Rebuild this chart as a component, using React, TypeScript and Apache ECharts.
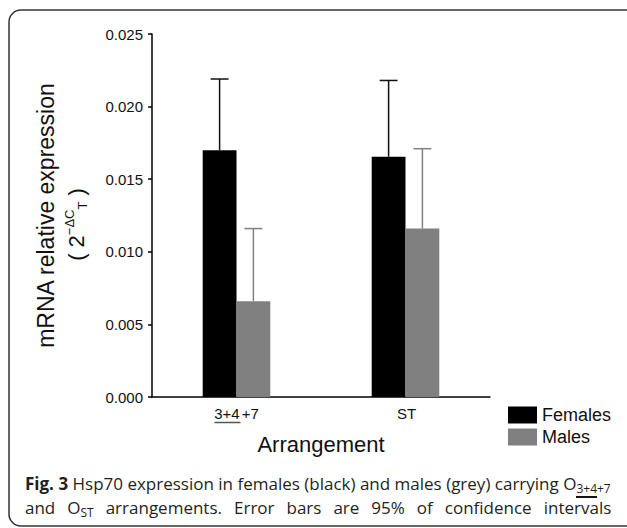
import React, { useEffect, useRef } from "react";
import * as echarts from "echarts";

const categories = ["3+4+7", "ST"];
const seriesNames = ["Females", "Males"];
const femalesMean = [0.017, 0.01655];
const femalesUpper = [0.0219, 0.0218];
const malesMean = [0.0066, 0.0116];
const malesUpper = [0.0116, 0.0171];
const yMin = 0;
const yMax = 0.025;
const yInterval = 0.005;

const seriesColors = ["#000000", "#808080"];
const errorColors = ["#111111", "#808080"];
const ARIAL = "'Liberation Sans', Arial, sans-serif";
const CAPTION = "'Open Sans', sans-serif";

export default function App() {
  const ref = useRef<HTMLDivElement>(null);

  useEffect(() => {
    document.body.style.margin = "0";
    const chart = echarts.init(ref.current!, null, { renderer: "svg" });

    const errorSeries = (name: string, means: number[], uppers: number[], color: string, side: number) => ({
      type: "custom",
      name: name + " 95% CI",
      data: means.map((m, i) => [i, m, uppers[i]]),
      encode: { x: 0, y: [1, 2] },
      z: 3,
      silent: true,
      renderItem: (params: any, api: any) => {
        const idx = api.value(0);
        const base = api.coord([idx, api.value(1)]);
        const top = api.coord([idx, api.value(2)]);
        const band = api.size([1, 0])[0];
        const x = base[0] + side * band * 0.1;
        const half = band * 0.053;
        return {
          type: "group",
          children: [
            { type: "line", shape: { x1: x, y1: base[1], x2: x, y2: top[1] }, style: { stroke: color, lineWidth: 1.5 } },
            { type: "line", shape: { x1: x - half, y1: top[1], x2: x + half, y2: top[1] }, style: { stroke: color, lineWidth: 1.5 } },
          ],
        };
      },
    });

    const option: any = {
      animation: false,
      backgroundColor: "#ffffff",
      grid: { left: 152, right: 137, top: 34, bottom: 131, containLabel: false },
      legend: {
        data: seriesNames,
        orient: "vertical",
        left: 503,
        top: 401,
        itemWidth: 29,
        itemHeight: 17,
        itemGap: 4,
        icon: "rect",
        selectedMode: false,
        textStyle: { fontSize: 18, color: "#111", fontFamily: ARIAL, lineHeight: 17 },
      },
      xAxis: {
        type: "category",
        data: categories,
        axisLine: { show: true, lineStyle: { color: "#000", width: 1.5 } },
        axisTick: { show: false },
        axisLabel: {
          margin: 8,
          interval: 0,
          formatter: (v: string) =>
            v === "3+4+7" ? "{u|3+4}{n|+7}\n{ul|}{sp|}" : "{n|" + v + "}",
          rich: {
            u: { fontSize: 15, lineHeight: 16, color: "#111", fontFamily: ARIAL },
            n: { fontSize: 15, lineHeight: 16, color: "#111", fontFamily: ARIAL, padding: [0, 0, 0, 2] },
            ul: { width: 26, height: 1.5, lineHeight: 3, backgroundColor: "#555" },
            sp: { width: 18, height: 1.5, lineHeight: 3 },
          },
        },
        name: "Arrangement",
        nameLocation: "middle",
        nameGap: 35,
        nameTextStyle: { fontSize: 22, color: "#111", fontFamily: ARIAL, verticalAlign: "top" },
      },
      yAxis: {
        type: "value",
        min: yMin,
        max: yMax,
        interval: yInterval,
        axisLine: { show: true, lineStyle: { color: "#000", width: 1.5 } },
        axisTick: { show: true, inside: false, length: 4, lineStyle: { color: "#000", width: 1.5 } },
        splitLine: { show: false },
        axisLabel: {
          formatter: (v: number) => v.toFixed(3),
          fontSize: 15,
          color: "#111",
          margin: 9,
          fontFamily: ARIAL,
        },
        name: "{t|mRNA relative expression}\n{p|( 2}{sup|−ΔC}{sub|T}{p| )}{sp|}",
        nameLocation: "middle",
        nameRotate: 90,
        nameGap: 63,
        nameTextStyle: {
          fontFamily: ARIAL,
          color: "#111",
          rich: {
            t: { fontSize: 23, lineHeight: 34, color: "#111", fontFamily: ARIAL },
            p: { fontSize: 22, lineHeight: 26, color: "#111", fontFamily: ARIAL, verticalAlign: "middle" },
            sup: { fontSize: 13, lineHeight: 14, color: "#111", fontFamily: ARIAL, verticalAlign: "top" },
            sub: { fontSize: 13, lineHeight: 14, color: "#111", fontFamily: ARIAL, verticalAlign: "bottom" },
            sp: { width: 18, height: 1 },
          },
        },
      },
      series: [
        {
          type: "bar",
          name: seriesNames[0],
          data: femalesMean,
          barGap: "0%",
          barCategoryGap: "60%",
          itemStyle: { color: seriesColors[0] },
          z: 2,
        },
        {
          type: "bar",
          name: seriesNames[1],
          data: malesMean,
          barGap: "0%",
          barCategoryGap: "60%",
          itemStyle: { color: seriesColors[1] },
          z: 2,
        },
        errorSeries(seriesNames[0], femalesMean, femalesUpper, errorColors[0], -1),
        errorSeries(seriesNames[1], malesMean, malesUpper, errorColors[1], 1),
      ],
      graphic: [
        {
          type: "rect",
          silent: true,
          shape: { x: 9, y: 10, width: 700, height: 516, r: 12 },
          style: { fill: "none", stroke: "#333", lineWidth: 1.5 },
        },
        {
          type: "text",
          x: 25,
          y: 483,
          style: {
            text: "{b|Fig. 3} Hsp70 expression in females (black) and males (grey) carrying O{s|3+4+7}",
            fontSize: 17,
            fontFamily: CAPTION,
            fill: "#231f20",
            lineHeight: 22,
            align: "left",
            verticalAlign: "middle",
            rich: {
              b: { fontSize: 17, fontWeight: "bold", fontFamily: CAPTION, fill: "#231f20", lineHeight: 22 },
              s: { fontSize: 12, fontFamily: CAPTION, fill: "#231f20", lineHeight: 14, verticalAlign: "bottom" },
            },
          },
        },
        {
          type: "rect",
          silent: true,
          shape: { x: 576, y: 496, width: 21, height: 2 },
          style: { fill: "#111" },
        },
        {
          type: "text",
          x: 25,
          y: 507,
          style: {
            text:
              "and{w|}O{s|ST}{w|}arrangements.{w|}Error{w|}bars{w|}are{w|}95%{w|}of{w|}confidence{w|}intervals",
            fontSize: 17,
            fontFamily: CAPTION,
            fill: "#231f20",
            lineHeight: 22,
            align: "left",
            verticalAlign: "middle",
            rich: {
              s: { fontSize: 12, fontFamily: CAPTION, fill: "#231f20", lineHeight: 14, verticalAlign: "bottom" },
              w: { width: 12, height: 1, lineHeight: 22 },
            },
          },
        },
      ],
    };

    chart.setOption(option);
    return () => chart.dispose();
  }, []);

  return <div ref={ref} style={{ width: 627, height: 528 }} />;
}
